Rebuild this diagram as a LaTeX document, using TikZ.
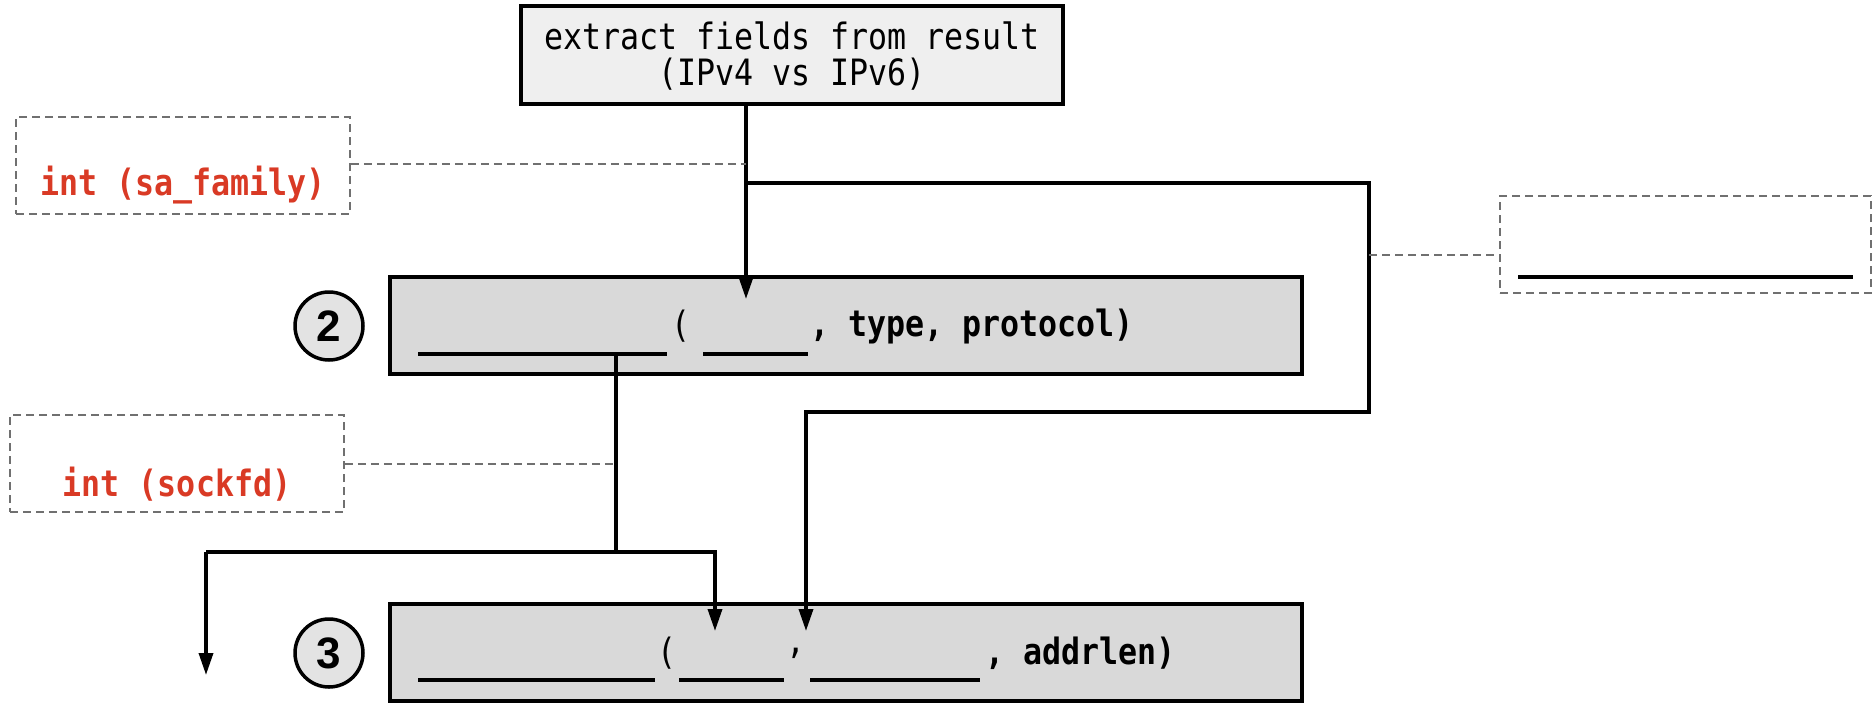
\documentclass[tikz,border=0pt]{standalone}
\usepackage{graphicx}
\usepackage{fontspec}
\newfontfamily\monofont{DejaVu Sans Mono}
\newfontfamily\numfont{Liberation Sans}
\usetikzlibrary{arrows.meta}
\definecolor{topfill}{HTML}{EFEFEF}
\definecolor{boxfill}{HTML}{D9D9D9}
\definecolor{circfill}{HTML}{E3E3E3}
\definecolor{redtext}{HTML}{D93A25}
\definecolor{dashgray}{HTML}{707070}
\newcommand{\tallt}[1]{\scalebox{1.02}[1.17]{#1}}
\begin{document}
\begin{tikzpicture}[x=1pt,y=-1pt,
  txt/.style={font=\monofont\fontsize{31}{40}\selectfont, inner sep=0pt},
  btxt/.style={font=\monofont\bfseries\fontsize{31}{40}\selectfont, inner sep=0pt},
  rtxt/.style={font=\monofont\bfseries\fontsize{31}{40}\selectfont, text=redtext, inner sep=0pt},
  topbox/.style={draw=black, line width=3.5pt, fill=topfill, inner sep=0pt},
  stepbox/.style={draw=black, line width=3.5pt, fill=boxfill, inner sep=0pt, minimum width=912pt, minimum height=97pt},
  numcirc/.style={circle, draw=black, line width=3.5pt, fill=circfill, minimum size=68pt, inner sep=0pt, font=\numfont\bfseries\fontsize{44}{44}\selectfont},
  notebox/.style={draw=dashgray, dash pattern=on 8pt off 5pt, line width=1.7pt, inner sep=0pt, minimum width=334pt, minimum height=97pt},
  note/.style={draw=dashgray, dash pattern=on 8pt off 5pt, line width=1.7pt},
  conn/.style={draw=black, line width=3.5pt},
  arr/.style={conn, -{Triangle[length=22pt,width=14pt]}},
  blank/.style={draw=black, line width=3.5pt}
]
\useasboundingbox (0,0) rectangle (1874,705);

% top box
\node[topbox, minimum width=542pt, minimum height=98pt] (top) at (792,55) {};
\node[txt] (t1) at (792,36) {\tallt{extract fields from result}};
\node[txt] (t2) at (792,74) {\tallt{(IPv4 vs IPv6)}};

% step 2
\node[stepbox] (s2) at (846,325.5) {};
\node[numcirc] (c2) at (329,326) {2};
\coordinate (b2a) at (418,354);
\coordinate (b2b) at (667,354);
\draw[blank] (b2a) -- (b2b);
\node[txt, anchor=center] (p2) at (681,326) {\tallt{(}};
\coordinate (b2c) at (703,354);
\coordinate (b2d) at (808,354);
\draw[blank] (b2c) -- (b2d);
\node[btxt, anchor=west] (r2) at (810,326) {\tallt{, type, protocol)}};

% step 3
\node[stepbox] (s3) at (846,652.5) {};
\node[numcirc] (c3) at (329,653) {3};
\coordinate (b3a) at (418,680);
\coordinate (b3b) at (655,680);
\draw[blank] (b3a) -- (b3b);
\node[txt] (p3) at (667,653) {\tallt{(}};
\coordinate (b3c) at (679,680);
\coordinate (b3d) at (784,680);
\draw[blank] (b3c) -- (b3d);
\node[txt] (k3) at (796,653) {\tallt{,}};
\coordinate (b3e) at (810,680);
\coordinate (b3f) at (980,680);
\draw[blank] (b3e) -- (b3f);
\node[btxt, anchor=west] (r3) at (985,653) {\tallt{, addrlen)}};

% notes
\node[notebox] (sa) at (183,165.5) {};
\node[rtxt] (sat) at (183,185) {\tallt{int (sa\_family)}};
\node[notebox] (sock) at (177,463.5) {};
\node[rtxt] (sockt) at (177,484) {\tallt{int (sockfd)}};
\node[notebox, minimum width=371pt] (rb) at (1685.5,244.5) {};
\coordinate (rbl1) at (1518,277);
\coordinate (rbl2) at (1853,277);
\draw[blank] (rbl1) -- (rbl2);

% connectors
\coordinate (m0) at (746,104);
\coordinate (m1) at (746,183);
\coordinate (m2) at (746,299);
\draw[arr] (m0) -- (m2);
\coordinate (r1) at (1369,183);
\coordinate (r2) at (1369,412);
\coordinate (r3) at (806,412);
\coordinate (r4) at (806,631);
\draw[arr] (m1) -- (r1) -- (r2) -- (r3) -- (r4);

\coordinate (d0) at (616,354);
\coordinate (d1) at (616,552);
\draw[conn] (d0) -- (d1);
\coordinate (h1) at (206,552);
\coordinate (h2) at (715,552);
\coordinate (h3) at (715,631);
\coordinate (h4) at (206,675);
\draw[arr] (h1) -- (h2) -- (h3);
\draw[arr] (h1) -- (h4);

% dashed connectors
\coordinate (sa1) at (746,164);
\draw[note] (sa.east |- sa1) -- (sa1);
\coordinate (so1) at (616,464);
\draw[note] (sock.east |- so1) -- (so1);
\coordinate (rr1) at (1369,255);
\draw[note] (rr1) -- (rb.west |- rr1);
\end{tikzpicture}
\end{document}
